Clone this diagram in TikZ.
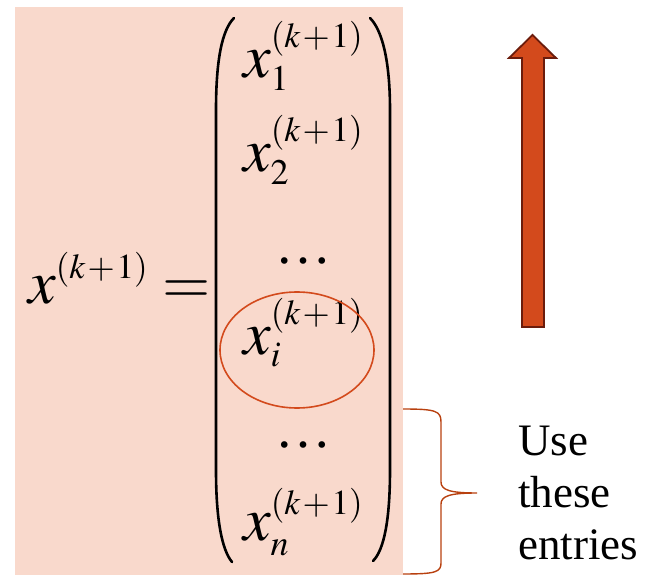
\documentclass[tikz,border=0pt]{standalone}
\usepackage{mathptmx}
\usepackage{fontspec}
\setmainfont{Liberation Serif}
\usetikzlibrary{positioning}
\DeclareMathSizes{62}{62}{36}{35}
\definecolor{slide}{HTML}{F9D9CC}
\definecolor{rust}{HTML}{D34A1C}
\definecolor{rustdark}{HTML}{6B1C0C}
\definecolor{bracecol}{HTML}{B8400F}
\tikzset{
  entry/.style={anchor=base west,inner sep=0pt,font=\fontsize{62}{70}\selectfont},
  gap/.style={inner sep=0pt,font=\fontsize{56}{60}\selectfont},
  paren/.style={line width=2.6pt,line cap=round},
  ring/.style={draw=rust,line width=1.6pt},
  uparrow/.style={fill=rust,draw=rustdark,line width=1.8pt,line join=miter},
  bracket/.style={draw=bracecol,line width=1.4pt},
  note/.style={inner sep=0pt,align=left,font=\fontsize{45}{52}\selectfont}
}
\newcommand{\kp}{\raisebox{3pt}{$\scriptscriptstyle(k\mkern1mu+\mkern1mu1)$}}
\newcommand{\xk}[1]{$x_{#1}^{\kp}$}

\begin{document}
\begin{tikzpicture}[x=1pt,y=-1pt]
\useasboundingbox (0,0) rectangle (657,575);
\fill[slide] (15,7) rectangle (403,575);
% vector x^(k+1)
\node[entry] (lhs) at (28,304) {$x^{\kp}=$};
\draw[paren] (234,18) .. controls (222,30) and (216,60) .. (216,110) -- (216,470) .. controls (216,520) and (222,550) .. (232,562);
\draw[paren] (370,18) .. controls (382,30) and (390,60) .. (390,110) -- (390,470) .. controls (390,520) and (384,550) .. (373,561);
\node[entry] (x1) at (243,78) {\xk{1}};
\node[entry] (x2) at (243,172) {\xk{2}};
\node[gap] (dotsa) at (303,261) {…};
\node[entry] (xi) at (243,355) {\xk{i}};
\node[gap] (dotsb) at (303,445) {…};
\node[entry] (xn) at (243,540) {\xk{n}};
\draw[ring] (297,350) ellipse [x radius=77pt,y radius=58pt];
% direction of the sweep
\draw[uparrow] (522,327) -- (522,58) -- (509,58) -- (532.5,35) -- (556,58) -- (544,58) -- (544,327) -- cycle;
% brace on the lower entries
\draw[bracket] (403,409) .. controls (436,409) and (441,411) .. (441,422) -- (441,482)
  .. controls (441,490) and (450,493) .. (477,493) coordinate (tip)
  .. controls (450,493) and (441,496) .. (441,504) -- (441,563)
  .. controls (441,572) and (436,574) .. (403,574);
\node[note,anchor=west,right=41pt of tip] (use) {Use\\these\\entries};
\end{tikzpicture}
\end{document}
